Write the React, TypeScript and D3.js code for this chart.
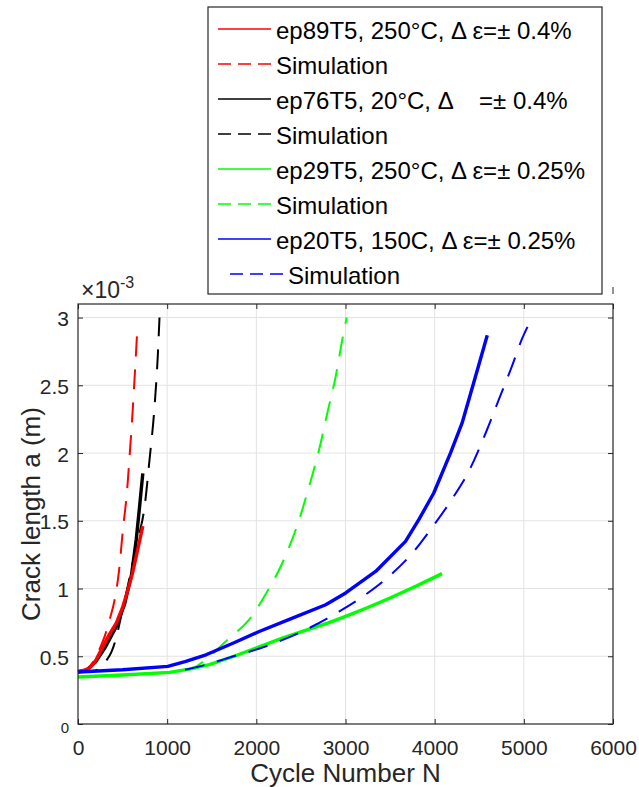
import React, { useEffect, useRef } from 'react';
import * as d3 from 'd3';

// crack length a in units of 1e-3 m, N in cycles
const redExpN = [0, 60, 131, 200, 280, 350, 429, 500, 559, 610, 653, 690, 727];
const redExpA = [0.388, 0.395, 0.413, 0.47, 0.573, 0.66, 0.745, 0.86, 0.99, 1.11, 1.237, 1.35, 1.46];
const redSimN = [0, 100, 150, 206, 250, 299, 350, 411, 460, 503, 550, 580, 610, 637, 664];
const redSimA = [0.38, 0.4, 0.44, 0.5, 0.565, 0.647, 0.76, 0.917, 1.13, 1.43, 1.72, 1.99, 2.28, 2.58, 2.9];

const blackExpN = [0, 100, 200, 300, 430, 520, 600, 653, 690, 709, 727];
const blackExpA = [0.385, 0.4, 0.46, 0.56, 0.72, 0.88, 1.1, 1.36, 1.6, 1.73, 1.85];
const blackSimN = [0, 100, 200, 262, 320, 374, 430, 485, 540, 597, 680, 746, 802, 858, 895, 914];
const blackSimA = [0.38, 0.385, 0.395, 0.42, 0.47, 0.53, 0.64, 0.8, 0.96, 1.14, 1.38, 1.6, 1.95, 2.34, 2.72, 3.0];

const greenExpN = [0, 500, 1026, 1250, 1473, 1750, 2032, 2300, 2592, 2800, 3002, 3250, 3500, 3800, 4083];
const greenExpA = [0.347, 0.362, 0.381, 0.405, 0.438, 0.5, 0.57, 0.635, 0.7, 0.745, 0.795, 0.86, 0.93, 1.02, 1.11];
const greenSimN = [1200, 1286, 1454, 1697, 1920, 2088, 2293, 2480, 2592, 2704, 2796, 2890, 2964, 3013];
const greenSimA = [0.4, 0.413, 0.487, 0.635, 0.77, 0.94, 1.19, 1.508, 1.754, 2.024, 2.295, 2.565, 2.836, 3.0];

const blueExpN = [0, 500, 1007, 1200, 1436, 1750, 2032, 2405, 2778, 3002, 3338, 3673, 3822, 3990, 4177, 4307, 4437, 4590];
const blueExpA = [0.384, 0.4, 0.425, 0.46, 0.511, 0.6, 0.683, 0.782, 0.88, 0.967, 1.126, 1.348, 1.508, 1.705, 2.0, 2.22, 2.517, 2.87];
const blueSimN = [1200, 1450, 1716, 2107, 2555, 2927, 3170, 3487, 3766, 3953, 4177, 4382, 4586, 4717, 4866, 4978, 5095];
const blueSimA = [0.4, 0.44, 0.494, 0.573, 0.696, 0.83, 0.93, 1.09, 1.274, 1.434, 1.643, 1.864, 2.17, 2.39, 2.64, 2.84, 3.0];

const xTicks = [0, 1000, 2000, 3000, 4000, 5000, 6000];
const yTicks = [0, 0.5, 1, 1.5, 2, 2.5, 3];

const legendLabels = [
	'ep89T5, 250°C, Δ ε=± 0.4%',
	'Simulation',
	'ep76T5, 20°C, Δ    =± 0.4%',
	'Simulation',
	'ep29T5, 250°C, Δ ε=± 0.25%',
	'Simulation',
	'ep20T5, 150C, Δ ε=± 0.25%',
	'Simulation',
];
const legendColors = ['#ff0000', '#ff0000', '#000000', '#000000', '#00ff00', '#00ff00', '#0000ff', '#0000ff'];

const FONT = '"Liberation Sans", Arial, Helvetica, sans-serif';
const AXIS = '#262626';

const drawChart = (ref) => {
	const svg = d3.select(ref.current);
	svg.selectAll('*').remove();

	const x = d3.scaleLinear().domain([0, 6000]).range([78, 613]);
	const y = d3.scaleLinear().domain([0, 3.1]).range([724, 304]);
	const [x0, x1] = x.range();
	const [y0, y1] = y.range();

	// grid
	const grid = svg.append('g').attr('stroke', '#e3e3e3').attr('stroke-width', 1);
	grid.selectAll('.gx').data(xTicks.slice(1, -1))
		.enter()
		.append('line')
		.attr('x1', (d) => x(d)).attr('x2', (d) => x(d))
		.attr('y1', y0).attr('y2', y1);
	grid.selectAll('.gy').data(yTicks.slice(1))
		.enter()
		.append('line')
		.attr('x1', x0).attr('x2', x1)
		.attr('y1', (d) => y(d)).attr('y2', (d) => y(d));

	// curves
	const line = (curve) => d3.line()
		.x((d) => x(d[0]))
		.y((d) => y(d[1]))
		.curve(curve);
	const series = [
		{ n: blackExpN, a: blackExpA, color: '#000000', dash: false },
		{ n: blackSimN, a: blackSimA, color: '#000000', dash: true },
		{ n: redExpN, a: redExpA, color: '#ff0000', dash: false },
		{ n: redSimN, a: redSimA, color: '#ff0000', dash: true },
		{ n: greenExpN, a: greenExpA, color: '#00ff00', dash: false },
		{ n: greenSimN, a: greenSimA, color: '#00ff00', dash: true },
		{ n: blueExpN, a: blueExpA, color: '#0000ff', dash: false },
		{ n: blueSimN, a: blueSimA, color: '#0000ff', dash: true },
	];
	series.forEach((s) => {
		svg.append('path')
			.datum(s.n.map((n, i) => [n, s.a[i]]))
			.attr('fill', 'none')
			.attr('stroke', s.color)
			.attr('stroke-width', s.dash ? 2 : 3.4)
			.attr('stroke-dasharray', s.dash ? '20,13' : null)
			.attr('stroke-linejoin', 'round')
			.attr('d', line(s.dash ? d3.curveMonotoneX : d3.curveLinear));
	});

	// axes
	const xAxis = svg.append('g').attr('transform', `translate(0,${ y0 })`)
		.call(d3.axisBottom(x).tickValues(xTicks).tickSize(-5).tickSizeOuter(0)
			.tickFormat(d3.format('d')));
	xAxis.selectAll('text').attr('y', 31).attr('dy', 0)
		.attr('font-size', 21);
	const xTop = svg.append('g').attr('transform', `translate(0,${ y1 })`)
		.call(d3.axisTop(x).tickValues(xTicks).tickSize(-5).tickSizeOuter(0)
			.tickFormat(() => ''));
	const yAxis = svg.append('g').attr('transform', `translate(${ x0 },0)`)
		.call(d3.axisLeft(y).tickValues(yTicks).tickSize(-5).tickSizeOuter(0)
			.tickFormat(d3.format('~g')));
	yAxis.selectAll('text').attr('x', -9).attr('dy', 0)
		.attr('y', 8)
		.attr('font-size', (d) => (d === 0 ? 15 : 21));
	const yRight = svg.append('g').attr('transform', `translate(${ x1 },0)`)
		.call(d3.axisRight(y).tickValues(yTicks).tickSize(-5).tickSizeOuter(0)
			.tickFormat(() => ''));
	[xAxis, xTop, yAxis, yRight].forEach((g) => {
		g.attr('font-family', FONT);
		g.select('.domain').remove();
		g.selectAll('line').attr('stroke', AXIS);
		g.selectAll('text').attr('fill', AXIS);
	});
	svg.append('rect')
		.attr('x', x0).attr('y', y1)
		.attr('width', x1 - x0).attr('height', y0 - y1)
		.attr('fill', 'none')
		.attr('stroke', AXIS)
		.attr('stroke-width', 1.2);

	// exponent
	const expo = svg.append('text').attr('x', 81).attr('y', 298)
		.attr('font-family', FONT).attr('font-size', 23)
		.attr('fill', AXIS)
		.text('×10');
	expo.append('tspan').attr('font-size', 16).attr('dy', -10)
		.text('-3');

	// labels
	svg.append('text')
		.attr('x', (x0 + x1) / 2).attr('y', 782)
		.attr('text-anchor', 'middle')
		.attr('font-family', FONT).attr('font-size', 26)
		.attr('fill', AXIS)
		.text('Cycle Number N');
	svg.append('text')
		.attr('transform', `translate(40,${ (y0 + y1) / 2 }) rotate(-90)`)
		.attr('text-anchor', 'middle')
		.attr('font-family', FONT).attr('font-size', 26)
		.attr('fill', AXIS)
		.text('Crack length a (m)');

	svg.append('line').attr('x1', 613).attr('x2', 613)
		.attr('y1', 287).attr('y2', 294)
		.attr('stroke', AXIS);

	// legend
	const lg = svg.append('g');
	lg.append('rect')
		.attr('x', 208).attr('y', 7)
		.attr('width', 394).attr('height', 287)
		.attr('fill', '#ffffff')
		.attr('stroke', AXIS)
		.attr('stroke-width', 1.2);
	const rowY = d3.scalePoint().domain(d3.range(legendLabels.length)).range([29, 274]);
	legendLabels.forEach((label, i) => {
		const shift = i === legendLabels.length - 1 ? 12 : 0;
		const ly = rowY(i);
		lg.append('line')
			.attr('x1', 218 + shift).attr('x2', 271 + shift)
			.attr('y1', ly).attr('y2', ly)
			.attr('stroke', legendColors[i])
			.attr('stroke-width', 1.5)
			.attr('stroke-dasharray', i % 2 ? '13,7' : null);
		lg.append('text')
			.attr('x', 276 + shift).attr('y', ly + 10)
			.attr('font-family', FONT).attr('font-size', 24)
			.attr('fill', '#000000')
			.style('white-space', 'pre')
			.text(label);
	});
};

const App = () => {
	const ref = useRef(null);

	useEffect(() => drawChart(ref), []);

	return (
		<div style={ { position: 'absolute', left: 0, top: 0 } }>
			<svg ref={ ref } width={ 639 } height={ 787 } style={ { display: 'block', background: '#fff' } }/>
		</div>
	);
};

export default App;
